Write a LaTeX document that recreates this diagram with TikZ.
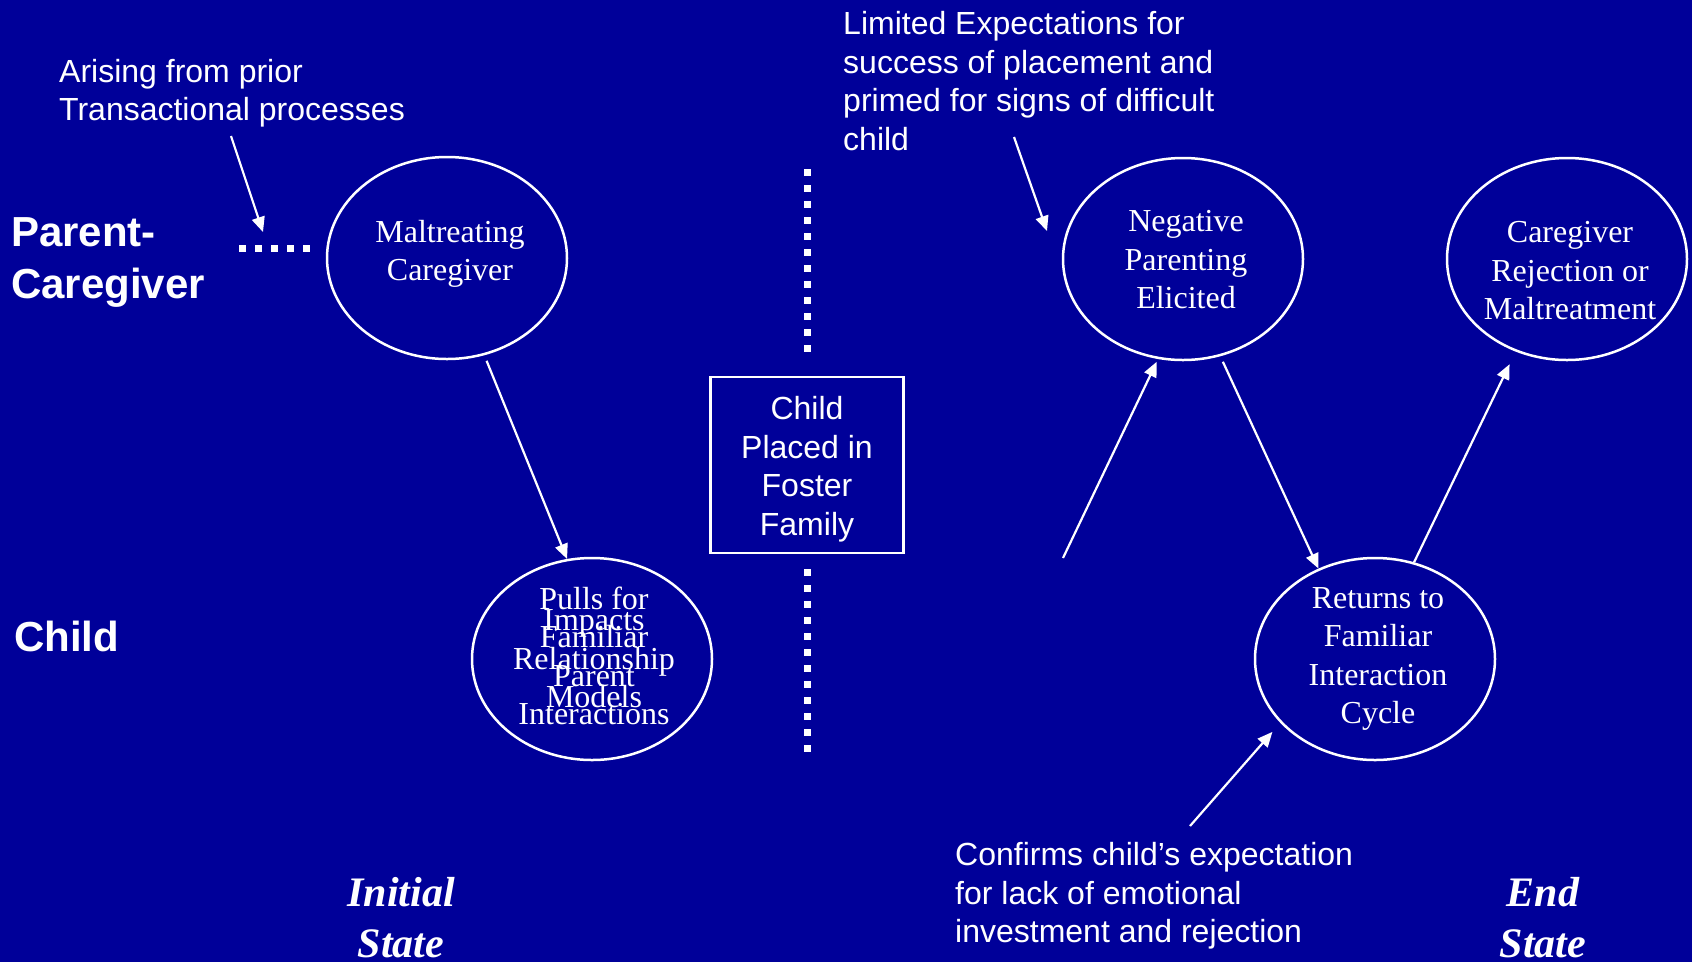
\documentclass[tikz,border=0pt]{standalone}
\usepackage{fontspec}
\setmainfont{Liberation Serif}
\setsansfont{Liberation Sans}
\usetikzlibrary{arrows.meta,shapes.geometric,calc}
\definecolor{bg}{RGB}{0,0,153}
\begin{document}
\begin{tikzpicture}[x=1pt,y=-1pt,
 ell/.style={draw=white, line width=2.5pt, ellipse, minimum width=240pt, minimum height=202pt, inner sep=0pt},
 etext/.style={text=white, font=\fontsize{32}{38.5}\selectfont, align=center, inner sep=0pt},
 stext/.style={text=white, font=\sffamily\fontsize{32}{38.5}\selectfont, align=left, inner sep=0pt, anchor=west},
 rowlab/.style={text=white, font=\sffamily\bfseries\fontsize{42}{52}\selectfont, align=left, inner sep=0pt, anchor=west},
 statelab/.style={text=white, font=\bfseries\itshape\fontsize{42}{51}\selectfont, align=center, inner sep=0pt},
 arr/.style={draw=white, line width=2.2pt, -{Triangle[length=15pt,width=13pt]}},
 dots/.style={draw=white, line width=7pt, dash pattern=on 7pt off 9pt},
 fbox/.style={draw=white, line width=2.5pt, minimum width=193pt, minimum height=176pt, inner sep=0pt},
 btext/.style={text=white, align=center, inner sep=0pt, font=\sffamily\fontsize{32}{38.5}\selectfont}
]
\fill[bg] (0,0) rectangle (1692,962);
\useasboundingbox (0,0) rectangle (1692,962);

% row labels
\node[rowlab] (parent) at (11,262) {Parent-\\Caregiver};
\node[rowlab] (child) at (14,636) {Child};

% notes
\node[stext] (arising) at (59,93) {Arising from prior\\Transactional processes};
\node[stext] (limited) at (843,81) {Limited Expectations for\\success of placement and\\primed for signs of difficult\\child};
\node[stext] (confirms) at (955,896) {Confirms child’s expectation\\for lack of emotional\\investment and rejection};

% state labels
\node[statelab] (initial) at (401,918) {Initial\\State};
\node[statelab] (endstate) at (1543,918) {End\\State};

% ellipses
\node[ell] (mc) at (447,258) {};
\node[etext] (mctext) at (450,254) {Maltreating\\Caregiver};
\node[ell] (pulls) at (592,659) {};
\node[etext] (pullsA) at (594,656) {Pulls for\\Familiar\\Parent\\Interactions};
\node[etext] (pullsB) at (594,659) {Impacts\\Relationship\\Models};
\node[ell] (neg) at (1183,259) {};
\node[etext] (negtext) at (1186,260) {Negative\\Parenting\\Elicited};
\node[ell] (rej) at (1567,259) {};
\node[etext] (rejtext) at (1570,271) {Caregiver\\Rejection or\\Maltreatment};
\node[ell] (ret) at (1375,659) {};
\node[etext] (rettext) at (1378,659) {Returns to\\Familiar\\Interaction\\Cycle};

% foster box
\node[fbox] (fam) at (807,465) {};
\node[btext] (famtext) at (807,469) {Child\\Placed in\\Foster\\Family};

% coordinates for free ends
\coordinate (a1) at (231,136); \coordinate (a2) at (263,232);
\coordinate (h1) at (239,248); \coordinate (h2) at (311,248);
\coordinate (v1) at (807,169); \coordinate (v2) at (807,353);
\coordinate (v3) at (807,569); \coordinate (v4) at (807,752);
\coordinate (l1) at (1014,137); \coordinate (l2) at (1047,231);
\coordinate (n0) at (1063,558);
\coordinate (c0) at (1190,826);

% dotted lines
\draw[dots] (h1) -- (h2);
\draw[dots] (v1) -- (v2);
\draw[dots] (v3) -- (v4);

% arrows
\draw[arr] (a1) -- (a2);
\draw[arr] (l1) -- (l2);
\draw[arr, shorten <=6pt] (mc.291) -- (pulls.104);
\draw[arr, shorten >=3pt] (n0) -- (neg.256);
\draw[arr, shorten <=6pt] (neg.291) -- (ret.122);
\draw[arr, shorten >=14pt] (ret.68) -- (rej.241);
\draw[arr, shorten >=12pt] (c0) -- (ret.214);
\end{tikzpicture}
\end{document}
